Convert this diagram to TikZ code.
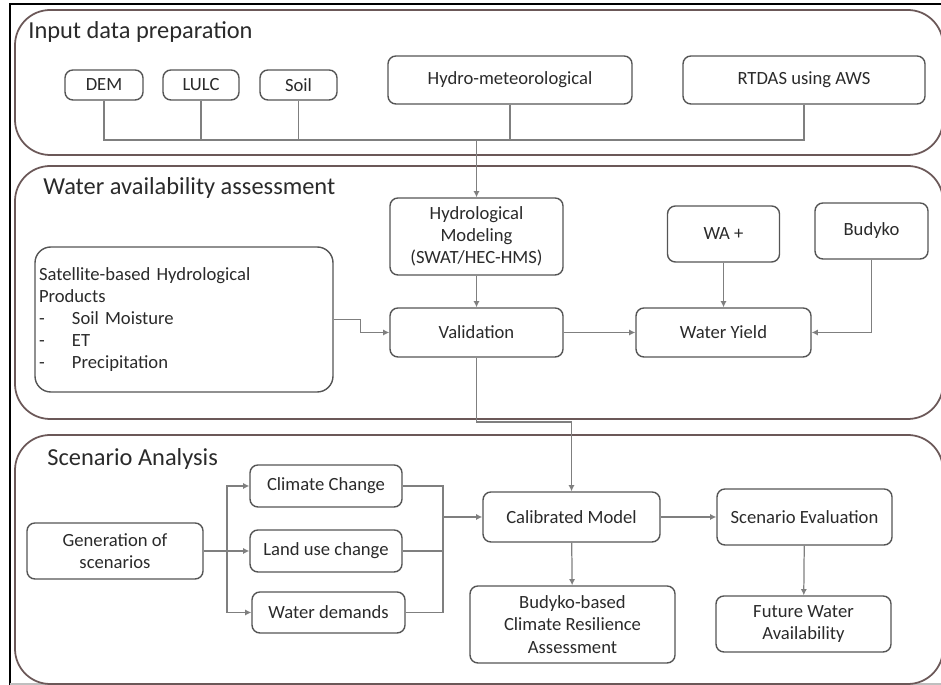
\documentclass[tikz,border=0pt]{standalone}
\usepackage{fontspec}
\setmainfont{Carlito}
\usetikzlibrary{arrows.meta,positioning}
\definecolor{Frame}{HTML}{6B5858}
\definecolor{BoxLine}{HTML}{555555}
\definecolor{Wire}{HTML}{7F7F7F}
\definecolor{Ink}{HTML}{2A2A2A}

\begin{document}
\begin{tikzpicture}[x=0.02cm,y=-0.02cm,
    box/.style={draw=BoxLine,line width=0.8pt,rounded corners=4.5pt,text=Ink,
      align=center,inner sep=0pt,font=\fontsize{10.6}{12.6}\selectfont},
    sz/.style 2 args={minimum width=#1*0.02cm,minimum height=#2*0.02cm},
    wire/.style={draw=Wire,line width=0.7pt},
    arr/.style={wire,-{Latex[length=3.5pt,width=3.5pt]}},
    panel/.style={draw=Frame,line width=1pt,rounded corners=20pt},
    title/.style={anchor=base west,inner sep=0pt,text=Ink,
      font=\fontsize{13.9}{16}\selectfont}]
    \useasboundingbox (0,0) rectangle (941,685);
    \clip (0,0) rectangle (941,685);
    % frame of the page
    \draw[black,line width=1.2pt] (10,686) -- (10,4) -- (942,4);
    \draw[gray!50,line width=0.8pt] (10,684) -- (942,684);
    % the three stages
    \foreach \i/\top/\bot/\tx/\ty/\ttl in {
        1/10/155/28/39/{Input data preparation},
        2/166/419/43/195/{Water availability assessment},
        3/435/684/47/466/{Scenario Analysis}}{
      \draw[panel] (15,\top) rectangle (943,\bot);
      \node[title] (ttl\i) at (\tx,\ty) {\ttl};
    }
    % input data
    \node[box,sz={78}{30}] (dem) at (104,85) {DEM};
    \node[box,sz={76}{30}] (lulc) at (201,85) {LULC};
    \node[box,sz={77}{30}] (soil) at (298.5,85) {Soil};
    \node[box,sz={244}{48}] (hydromet) at (510,80) {Hydro-meteorological};
    \node[box,sz={242}{48}] (rtdas) at (804,80) {RTDAS using AWS};
    % water availability
    \node[box,sz={173}{77}] (hydmod) at (476.5,236.5)
      {Hydrological\\Modeling\\(SWAT/HEC-HMS)};
    \node[box,sz={173}{49}] (valid) at (476.5,332.5) {Validation};
    \node[box,sz={298}{145},align=left,text width=290*0.02cm,
      rounded corners=9pt] (sat) at (184,319.5)
      {Satellite-based Hydrological\\Products\\
       \makebox[0.66cm][l]{-}Soil Moisture\\
       \makebox[0.66cm][l]{-}ET\\
       \makebox[0.66cm][l]{-}Precipitation};
    \node[box,sz={112}{56}] (waplus) at (723.5,234) {WA +};
    \node[box,sz={113}{56}] (budyko) at (871.5,231) {Budyko};
    \node[box,sz={175}{49}] (wyield) at (723.5,332.5) {Water Yield};
    % scenarios
    \node[box,sz={176}{56}] (gen) at (115,551) {Generation of\\scenarios};
    \node[box,sz={152}{42}] (climate) at (326,486) {Climate Change};
    \node[box,sz={152}{42}] (landuse) at (326,551) {Land use change};
    \node[box,sz={153}{41}] (demand) at (328.5,612.5) {Water demands};
    \node[box,sz={177}{50}] (calib) at (571.5,517) {Calibrated Model};
    \node[box,sz={175}{56}] (sceval) at (804.5,517) {Scenario Evaluation};
    \node[box,sz={205}{77}] (budres) at (572.5,624.5)
      {Budyko-based\\Climate Resilience\\Assessment};
    \node[box,sz={175}{56}] (future) at (803.5,624) {Future Water\\Availability};
    % junction points
    \coordinate (bus) at (476.5,140);
    \coordinate (turn) at (476.5,422);
    \coordinate (split) at (227,551);
    \coordinate (join) at (443,517);
    % connectors
    \foreach \n in {dem,lulc,soil,hydromet,rtdas}
      \draw[wire] (\n.south) |- (bus);
    \draw[arr] (bus) -- (hydmod.north);
    \draw[arr] (hydmod) -- (valid);
    \draw[arr] (sat.east) -- ++(27,0) |- (valid.west);
    \draw[arr] (valid) -- (wyield);
    \draw[arr] (waplus) -- (wyield);
    \draw[arr] (budyko.south) |- (wyield.east);
    \draw[arr] (valid.south) -- (turn) -| (calib.north);
    \draw[wire] (gen.east) -- (split);
    \foreach \n in {climate,landuse,demand}{
      \draw[arr] (split) |- (\n.west);
      \draw[wire] (\n.east) -| (join);
    }
    \draw[arr] (join) -- (calib.west);
    \draw[arr] (calib) -- (sceval);
    \draw[arr] (calib) -- (budres);
    \draw[arr] (sceval) -- (future);
\end{tikzpicture}
\end{document}
